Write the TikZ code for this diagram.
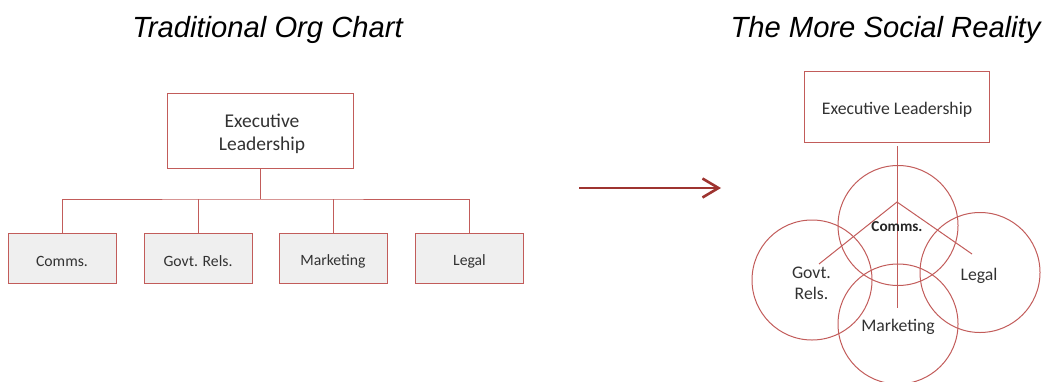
\documentclass[tikz,border=0pt]{standalone}
\usepackage{fontspec}
\setmainfont{Carlito}
\newfontfamily\titlefont{Liberation Sans}
\usetikzlibrary{arrows.meta}
\definecolor{boxred}{RGB}{194,92,90}
\definecolor{arrowred}{RGB}{158,52,48}
\definecolor{boxfill}{RGB}{239,239,239}
\definecolor{txt}{RGB}{50,50,50}
\begin{document}
\begin{tikzpicture}[x=1pt,y=-1pt,
  ttl/.style={font=\titlefont\itshape\fontsize{29.2}{33}\selectfont, text=black, inner sep=0pt, anchor=base},
  execbox/.style={draw=boxred, line width=1pt, fill=white, inner sep=0pt},
  unitbox/.style={draw=boxred, line width=1pt, fill=boxfill, inner sep=0pt, minimum width=108pt, minimum height=50pt},
  boxtext/.style={text=txt, inner sep=0pt, align=center},
  conn/.style={draw=boxred, line width=1pt},
  circ/.style={draw=boxred, line width=1pt, circle, minimum size=120pt, inner sep=0pt},
  lbl/.style={text=txt, font=\fontsize{17.7}{21}\selectfont, inner sep=0pt, align=center}
]
\useasboundingbox (0,0) rectangle (1043,381);
% titles
\node[ttl] (t1) at (267.5,37) {Traditional Org Chart};
\node[ttl] (t2) at (885.5,37) {The More Social Reality};
% left org chart
\node[execbox, minimum width=186pt, minimum height=75pt] (exec) at (260,130.5) {};
\node[boxtext, font=\fontsize{19.5}{23}\selectfont] (exectxt) at (262,134) {Executive\\Leadership};
\node[unitbox] (c1) at (62,258) {};
\node[unitbox] (c2) at (198,258) {};
\node[unitbox] (c3) at (333,258) {};
\node[unitbox] (c4) at (469.5,258) {};
\begin{scope}[every node/.style={boxtext, font=\fontsize{15.7}{19}\selectfont}]
\node (c1t) at (62,261.5) {Comms.};
\node (c2t) at (198,261.5) {Govt. Rels.};
\node (c3t) at (333,261.5) {Marketing};
\node (c4t) at (469.5,261.5) {Legal};
\end{scope}
\coordinate (bus) at (260,199);
\draw[conn] (exec.south) -- (bus);
\draw[conn] (c1.north) |- (bus) -| (c4.north);
\draw[conn] (c2.north) -- (c2.north |- bus);
\draw[conn] (c3.north) -- (c3.north |- bus);
% arrow
\coordinate (a1) at (579,188);
\coordinate (a2) at (721,188);
\draw[arrowred, line width=2.6pt, -{Straight Barb[length=16pt,width=19pt,line width=2.6pt]}] (a1) -- (a2);
% right side
\node[execbox, minimum width=185pt, minimum height=71pt] (rexec) at (896.5,106.5) {};
\node[boxtext, font=\fontsize{17.7}{21}\selectfont] (rexect) at (897,109.5) {Executive Leadership};
\node[circ] (ccomms) at (898,225.5) {};
\node[circ] (cgov) at (812,280) {};
\node[circ] (clegal) at (980,272.5) {};
\node[circ] (cmkt) at (898,324) {};
\coordinate (top) at (897,146);
\coordinate (apex) at (897,202);
\coordinate (bot) at (897,308);
\coordinate (lend) at (819,264);
\coordinate (rend) at (972,254);
\draw[conn] (top) -- (bot);
\draw[conn] (lend) -- (apex) -- (rend);
\node[lbl, font=\bfseries\fontsize{15.2}{18}\selectfont, text=black!85] (lcomms) at (897,227) {Comms.};
\node[lbl] (lgov) at (811.5,283) {Govt.\\Rels.};
\node[lbl] (llegal) at (979,276) {Legal};
\node[lbl] (lmkt) at (898,327) {Marketing};
\end{tikzpicture}
\end{document}
